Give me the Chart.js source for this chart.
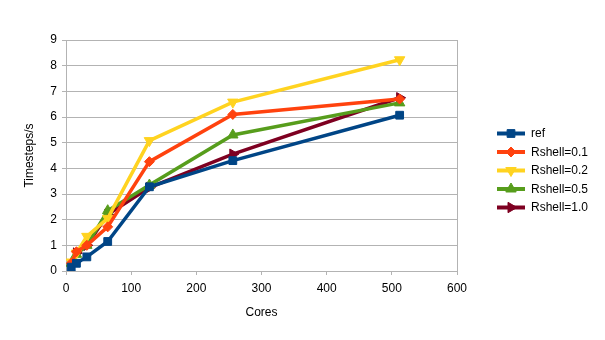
<!DOCTYPE html>
<html>
<head>
<meta charset="utf-8">
<script src="https://cdn.jsdelivr.net/npm/chart.js@4.4.1/dist/chart.umd.min.js"></script>
<style>
  html, body { margin: 0; padding: 0; background: #fff; }
  #wrap { width: 605px; height: 340px; }
</style>
</head>
<body>
<div id="wrap"><canvas id="chart" width="605" height="340"></canvas></div>
<script>
// values
const cores = [8, 16, 32, 64, 128, 256, 512];
const ref = [0.15, 0.3, 0.55, 1.15, 3.28, 4.3, 6.07];
const rshell01 = [0.3, 0.75, 1.0, 1.72, 4.26, 6.1, 6.7];
const rshell02 = [0.35, 0.7, 1.35, 2.05, 5.08, 6.58, 8.23];
const rshell05 = [0.3, 0.65, 1.0, 2.35, 3.35, 5.3, 6.55];
const rshell10 = [0.25, 0.7, 1.0, 2.2, 3.25, 4.55, 6.75];
const seriesNames = ['ref', 'Rshell=0.1', 'Rshell=0.2', 'Rshell=0.5', 'Rshell=1.0'];

const FONT = 'Liberation Sans, Arial, sans-serif';
const GRID = '#b3b3b3';

function toPoints(ys) {
  return cores.map((c, i) => ({ x: c, y: ys[i] }));
}

function series(label, ys, color, style, rot, radius) {
  return {
    label: label,
    data: toPoints(ys),
    borderColor: color,
    backgroundColor: color,
    borderWidth: 3.5,
    pointStyle: style,
    pointRotation: rot,
    pointRadius: radius,
    pointBorderWidth: 1,
    tension: 0
  };
}

// legend drawn as line + marker, like the original
const sideLegend = {
  id: 'sideLegend',
  afterDraw(chart) {
    const ctx = chart.ctx;
    const x0 = 497, x1 = 525, tx = 531;
    let y = 133.5;
    chart.data.datasets.forEach(ds => {
      ctx.save();
      ctx.strokeStyle = ds.borderColor;
      ctx.lineWidth = 4;
      ctx.beginPath();
      ctx.moveTo(x0, y);
      ctx.lineTo(x1, y);
      ctx.stroke();
      ctx.fillStyle = ds.backgroundColor;
      ctx.lineWidth = 1;
      Chart.helpers.drawPoint(ctx, { pointStyle: ds.pointStyle, rotation: ds.pointRotation, radius: ds.pointRadius, borderWidth: 1 }, (x0 + x1) / 2, y);
      ctx.fillStyle = '#000';
      ctx.font = '12px ' + FONT;
      ctx.textBaseline = 'middle';
      ctx.textAlign = 'left';
      ctx.fillText(ds.label, tx, y + 0.5);
      ctx.restore();
      y += 18.5;
    });
  }
};

const chart = new Chart(document.getElementById('chart'), {
  type: 'line',
  data: {
    datasets: [
      series(seriesNames[0], ref, '#004586', 'rect', 0, 5.5),
      series(seriesNames[1], rshell01, '#ff420e', 'rectRot', 0, 5),
      series(seriesNames[2], rshell02, '#ffd320', 'triangle', 180, 6),
      series(seriesNames[3], rshell05, '#579d1c', 'triangle', 0, 6),
      series(seriesNames[4], rshell10, '#7e0021', 'triangle', 90, 6)
    ]
  },
  options: {
    responsive: false,
    animation: false,
    layout: { padding: { left: 22, right: 148, top: 40, bottom: 20 } },
    scales: {
      x: {
        type: 'linear',
        min: 0,
        max: 600,
        afterFit(scale) { scale.height = 49; },
        ticks: { stepSize: 100, color: '#000', font: { family: FONT, size: 12 }, padding: 6 },
        grid: {
          color: c => (c.tick && c.tick.value === 600 ? GRID : 'rgba(0,0,0,0)'),
          tickColor: GRID,
          tickLength: 4
        },
        border: { color: GRID },
        title: { display: true, text: 'Cores', color: '#000', font: { family: FONT, size: 12 }, padding: 0 }
      },
      y: {
        min: 0,
        max: 9,
        afterFit(scale) { scale.width = 44; },
        ticks: { stepSize: 1, color: '#000', font: { family: FONT, size: 12 }, padding: 5 },
        grid: { color: GRID, tickColor: GRID, tickLength: 4 },
        border: { color: GRID },
        title: { display: true, text: 'Timesteps/s', color: '#000', font: { family: FONT, size: 12 }, padding: 0 }
      }
    },
    plugins: {
      legend: { display: false },
      tooltip: { enabled: false }
    }
  },
  plugins: [sideLegend]
});
</script>
</body>
</html>
